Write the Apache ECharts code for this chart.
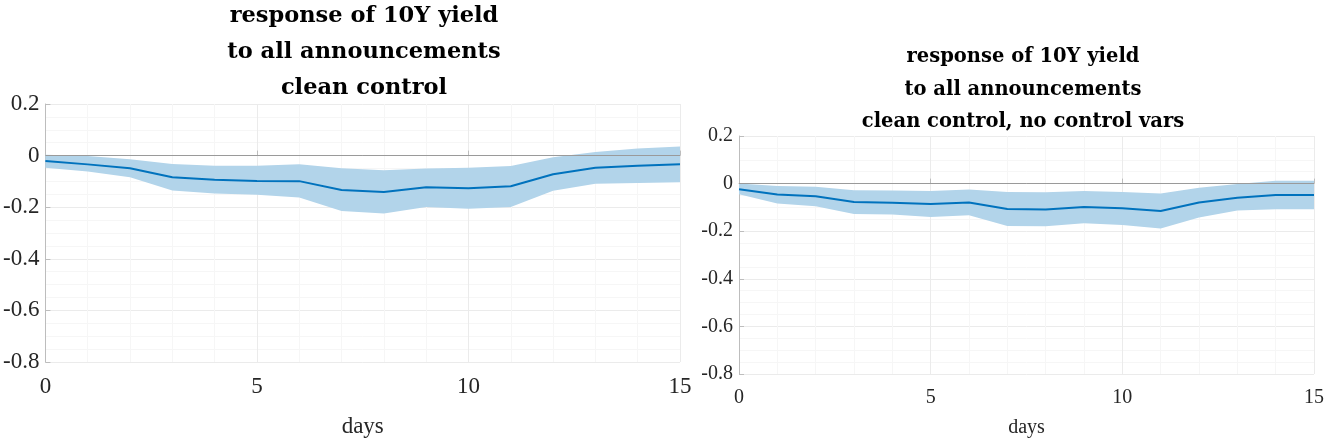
<!DOCTYPE html>
<html><head><meta charset="utf-8">
<script src="https://cdn.jsdelivr.net/npm/echarts@6/dist/echarts.min.js"></script>
<style>html,body{margin:0;padding:0;background:#fff}#c{width:1327px;height:443px}</style>
</head><body><div id="c"></div>
<script>
const days = [0,1,2,3,4,5,6,7,8,9,10,11,12,13,14,15];
const xTicks = [0,5,10,15];
const yTicks = [0.2,0,-0.2,-0.4,-0.6,-0.8];
// left panel: clean control
const leftMean  = [-0.021,-0.034,-0.049,-0.084,-0.094,-0.098,-0.099,-0.133,-0.141,-0.123,-0.127,-0.119,-0.072,-0.047,-0.039,-0.034];
const leftUpper = [0.003,-0.002,-0.014,-0.033,-0.039,-0.039,-0.034,-0.049,-0.057,-0.050,-0.047,-0.040,-0.006,0.014,0.028,0.035];
const leftLower = [-0.047,-0.062,-0.084,-0.135,-0.147,-0.152,-0.162,-0.215,-0.224,-0.199,-0.206,-0.199,-0.136,-0.109,-0.106,-0.103];
// right panel: clean control, no control vars
const rightMean  = [-0.024,-0.046,-0.053,-0.077,-0.080,-0.086,-0.079,-0.107,-0.109,-0.098,-0.104,-0.115,-0.079,-0.059,-0.048,-0.048];
const rightUpper = [0.000,-0.010,-0.013,-0.028,-0.029,-0.031,-0.025,-0.035,-0.036,-0.031,-0.035,-0.042,-0.017,-0.002,0.012,0.012];
const rightLower = [-0.045,-0.084,-0.095,-0.128,-0.130,-0.140,-0.133,-0.178,-0.179,-0.167,-0.174,-0.189,-0.142,-0.113,-0.108,-0.108];
const titleLeft = 'response of 10Y yield\nto all announcements\nclean control';
const titleRight = 'response of 10Y yield\nto all announcements\nclean control, no control vars';

const FONT = 'Liberation Serif';
const TFONT = 'DejaVu Serif';
const LINE = '#0072BD', BAND = '#B2D4EA';
function pairs(ys){ return days.map((d,i)=>[d,ys[i]]); }

function xAx(idx, fs, margin, gap){
  return {type:'value', gridIndex:idx, min:0, max:15, interval:5,
    name:'days', nameLocation:'middle', nameGap:gap,
    nameTextStyle:{fontFamily:FONT, fontSize:fs, color:'#262626'},
    axisLine:{show:true, lineStyle:{color:'#bdbdbd', width:1}},
    axisTick:{show:true, inside:true, length:5, lineStyle:{color:'#bdbdbd'}},
    axisLabel:{fontFamily:FONT, fontSize:fs, color:'#262626', margin:margin},
    splitLine:{show:true, lineStyle:{color:'#ebebeb', width:1}},
    minorTick:{show:false, splitNumber:5},
    minorSplitLine:{show:true, lineStyle:{color:'#f6f6f6', width:1}}};
}
function yAx(idx, fs){
  return {type:'value', gridIndex:idx, min:-0.8, max:0.2, interval:0.2,
    axisLine:{show:true, lineStyle:{color:'#bdbdbd', width:1}},
    axisTick:{show:true, inside:true, length:5, lineStyle:{color:'#bdbdbd'}},
    axisLabel:{fontFamily:FONT, fontSize:fs, color:'#262626', margin:6,
      formatter:v=>{const r=Math.round(v*10)/10; return r===0?'0':String(r);}},
    splitLine:{show:true, lineStyle:{color:'#ebebeb', width:1}},
    minorTick:{show:false, splitNumber:4},
    minorSplitLine:{show:true, lineStyle:{color:'#f6f6f6', width:1}}};
}
function panel(idx, mean, up, lo){
  return [
    {type:'custom', xAxisIndex:idx, yAxisIndex:idx, data:[0], silent:true, z:1,
     renderItem:(params, api)=>{
       const pts = [];
       for (let i=0;i<days.length;i++) pts.push(api.coord([days[i], up[i]]));
       for (let i=days.length-1;i>=0;i--) pts.push(api.coord([days[i], lo[i]]));
       return {type:'polygon', shape:{points:pts}, style:{fill:BAND}};
     }},
    {type:'line', xAxisIndex:idx, yAxisIndex:idx, data:pairs(mean), symbol:'none',
     lineStyle:{color:LINE, width:2}, z:3,
     markLine:{silent:true, symbol:'none', label:{show:false},
       lineStyle:{color:'#9a9a9a', width:1, type:'solid'}, data:[{yAxis:0}]}}
  ];
}
const chart = echarts.init(document.getElementById('c'), null, {renderer:'canvas'});
chart.setOption({
  animation:false,
  title:[
    {text:titleLeft, left:359, top:-7, textAlign:'center',
     textStyle:{fontFamily:TFONT, fontWeight:'bold', fontSize:22.5, lineHeight:36, color:'#000'}},
    {text:titleRight, left:1018, top:36, textAlign:'center',
     textStyle:{fontFamily:TFONT, fontWeight:'bold', fontSize:19.5, lineHeight:32.5, color:'#000'}}
  ],
  grid:[
    {left:45, top:104, width:635, height:265},
    {left:739, top:136, width:576, height:240}
  ],
  xAxis:[xAx(0,23,13,53), xAx(1,20,14,44)],
  yAxis:[yAx(0,23), yAx(1,20)],
  series:[...panel(0,leftMean,leftUpper,leftLower), ...panel(1,rightMean,rightUpper,rightLower)]
});
</script></body></html>
